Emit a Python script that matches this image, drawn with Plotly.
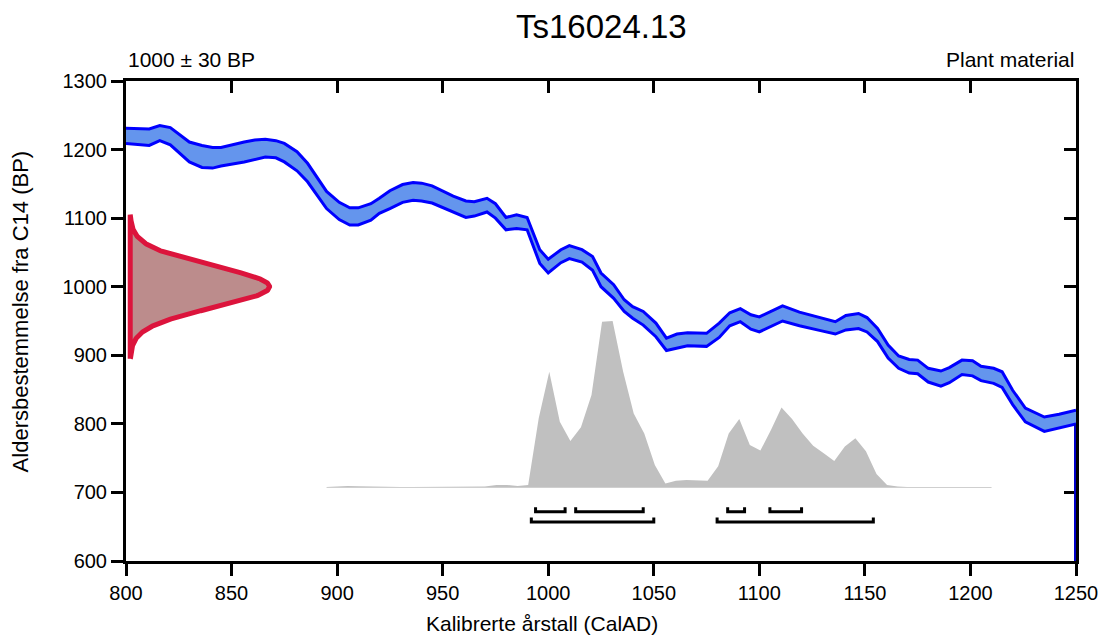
import numpy as np
import plotly.graph_objects as go

# ---------------- data ----------------
sample_name = "Ts16024.13"
c14_age = 1000
c14_sd = 30
material = "Plant material"

# calibration curve (IntCal-style band), upper and lower edges in BP
cal_year = [800, 811, 816, 821, 830, 836, 841, 845, 856, 861,
            866, 871, 875, 881, 886, 895, 901, 906, 910, 916,
            920, 925, 931, 936, 940, 945, 955, 961, 965, 971,
            975, 980, 985, 990, 996, 1000, 1006, 1010, 1016, 1021,
            1025, 1031, 1036, 1040, 1045, 1051, 1056, 1061, 1066, 1075,
            1081, 1086, 1091, 1096, 1100, 1111, 1119, 1129, 1136, 1141,
            1147, 1151, 1156, 1161, 1166, 1171, 1175, 1180, 1186, 1190,
            1196, 1201, 1205, 1211, 1215, 1220, 1226, 1235, 1242, 1250]
cal_upper = [1231, 1230, 1235, 1232, 1211, 1206, 1203, 1203, 1211, 1214,
             1215, 1213, 1209, 1197, 1180, 1139, 1123, 1115, 1115, 1121,
             1129, 1140, 1149, 1152, 1151, 1147, 1132, 1125, 1124, 1129,
             1121, 1101, 1105, 1101, 1054, 1040, 1054, 1060, 1054, 1044,
             1020, 1003, 981, 971, 964, 947, 925, 931, 933, 932,
             947, 962, 968, 959, 956, 972, 963, 955, 949, 958,
             961, 955, 939, 915, 899, 894, 893, 881, 877, 882,
             893, 892, 884, 881, 876, 849, 823, 810, 814, 820]
cal_lower = [1209, 1206, 1213, 1207, 1182, 1174, 1173, 1176, 1182, 1186,
             1189, 1188, 1182, 1169, 1153, 1114, 1098, 1090, 1090, 1097,
             1107, 1114, 1123, 1126, 1125, 1122, 1109, 1101, 1103, 1109,
             1100, 1083, 1085, 1083, 1034, 1020, 1035, 1041, 1036, 1024,
             1000, 983, 964, 954, 944, 927, 907, 911, 914, 913,
             926, 943, 949, 938, 934, 950, 943, 936, 931, 937,
             939, 934, 920, 896, 881, 874, 873, 861, 855, 860,
             872, 870, 863, 859, 853, 828, 803, 789, 794, 800]

# calibrated probability distribution (height above its baseline, in BP-axis units)
dist_year = [895, 900, 905, 910, 915, 920, 925, 930, 935, 940,
             945, 950, 955, 960, 965, 970, 975.5, 980.5, 985.5, 990.5,
             995.5, 1000.5, 1005.5, 1010.5, 1015.5, 1020.5, 1025.5, 1030.5, 1035.5, 1040.5,
             1045.5, 1050.5, 1055.5, 1060.5, 1065.5, 1070.5, 1075.5, 1080.5, 1085.5, 1090.5,
             1095.5, 1100.5, 1105.5, 1110.5, 1115.5, 1120.5, 1125.5, 1130.5, 1135.5, 1140.5,
             1145.5, 1150.5, 1155.5, 1160.5, 1165.5, 1170, 1175, 1180, 1185, 1190,
             1195, 1200, 1205, 1210]
dist_prob = [1, 2, 2.5, 2, 1.5, 1, 1, 1, 1, 1,
             1, 1, 1, 1, 1, 1.5, 4, 4, 2.5, 4,
             101, 169, 96, 68, 88, 135, 242, 243, 169, 108,
             79, 33, 6, 10, 11, 10, 10, 31, 79, 100,
             62, 54, 84, 117, 100, 79, 61, 50, 39, 60,
             72, 53, 20, 4, 1.5, 1, 1, 1, 1, 1,
             1, 1, 1, 1]

# calibrated ranges (cal AD)
range68_start = [994, 1013, 1085, 1105]
range68_end = [1008, 1045, 1093, 1120]
range95_start = [992, 1080]
range95_end = [1050, 1154]

x_ticks = [800, 850, 900, 950, 1000, 1050, 1100, 1150, 1200, 1250]
y_ticks = [600, 700, 800, 900, 1000, 1100, 1200, 1300]

# ---------------- styles / positions ----------------
FONT = "Liberation Sans, Arial, sans-serif"
dist_base = 707
row68_y, row95_y, tick_h = 672, 657, 6.5
gauss_base, gauss_amp = 802, 66

fig = go.Figure()

# probability distribution (grey)
fig.add_trace(go.Scatter(x=dist_year, y=[dist_base] * len(dist_year), mode="lines",
                         line=dict(width=0, color="#C0C0C0"), hoverinfo="skip", showlegend=False))
fig.add_trace(go.Scatter(x=dist_year, y=[dist_base + p for p in dist_prob], mode="lines",
                         fill="tonexty", fillcolor="#C0C0C0",
                         line=dict(width=0, color="#C0C0C0"), showlegend=False))

# calibration curve band
fig.add_trace(go.Scatter(x=cal_year, y=cal_upper, mode="lines",
                         line=dict(color="#0000FF", width=3), showlegend=False))
fig.add_trace(go.Scatter(x=cal_year, y=cal_lower, mode="lines", fill="tonexty",
                         fillcolor="#6495ED", line=dict(color="#0000FF", width=3), showlegend=False))
fig.add_trace(go.Scatter(x=[cal_year[-1], cal_year[-1]], y=[cal_lower[-1], y_ticks[0]], mode="lines",
                         line=dict(color="#0000C8", width=4), showlegend=False))

# measured radiocarbon age as normal distribution on the y-axis
gy = np.linspace(c14_age - 3.5 * c14_sd, c14_age + 3.5 * c14_sd, 301)
gx = gauss_base + gauss_amp * np.exp(-0.5 * ((gy - c14_age) / c14_sd) ** 2)
gx = np.concatenate([[gauss_base], gx, [gauss_base], [gauss_base]])
gy = np.concatenate([[gy[0]], gy, [gy[-1]], [gy[0]]])
fig.add_trace(go.Scatter(x=gx, y=gy, mode="lines", fill="toself", fillcolor="#BC8C8C",
                         line=dict(color="#DC143C", width=5), showlegend=False))

# range brackets
def brackets(starts, ends, y0):
    xs, ys = [], []
    for a, b in zip(starts, ends):
        xs += [a, a, b, b, None]
        ys += [y0 + tick_h, y0, y0, y0 + tick_h, None]
    return xs, ys

for st, en, yy in [(range68_start, range68_end, row68_y), (range95_start, range95_end, row95_y)]:
    bx, by = brackets(st, en, yy)
    fig.add_trace(go.Scatter(x=bx, y=by, mode="lines", line=dict(color="black", width=3),
                             showlegend=False))

# dummy trace for mirrored axes
fig.add_trace(go.Scatter(x=[None], y=[None], xaxis="x2", yaxis="y2", showlegend=False))

axis_common = dict(showgrid=False, zeroline=False, showline=True, linecolor="black",
                   linewidth=3, ticklen=12, tickwidth=3, tickcolor="black", automargin=False,
                   tickfont=dict(family=FONT, size=20, color="black"))

fig.update_layout(
    width=1101, height=636,
    margin=dict(l=126, r=25, t=81, b=75, autoexpand=False),
    paper_bgcolor="white", plot_bgcolor="white",
    showlegend=False,
    xaxis=dict(range=[800, 1250], tickvals=x_ticks, ticks="outside", **axis_common),
    yaxis=dict(range=[600, 1300], tickvals=y_ticks, ticks="outside", **axis_common),
    xaxis2=dict(range=[800, 1250], tickvals=x_ticks, ticks="inside", overlaying="x",
                side="top", showticklabels=False, **axis_common),
    yaxis2=dict(range=[600, 1300], tickvals=y_ticks, ticks="inside", overlaying="y",
                side="right", showticklabels=False, layer="below traces", **axis_common),
    annotations=[
        dict(text=sample_name, xref="paper", yref="paper", x=0.5, y=1.1125,
             xanchor="center", yanchor="middle", showarrow=False,
             font=dict(family=FONT, size=33, color="black")),
        dict(text=f"{c14_age} ± {c14_sd} BP", xref="paper", yref="paper", x=0, y=1.044,
             xanchor="left", yanchor="middle", showarrow=False,
             font=dict(family=FONT, size=21, color="black")),
        dict(text=material, xref="paper", yref="paper", x=1, y=1.044,
             xanchor="right", yanchor="middle", showarrow=False,
             font=dict(family=FONT, size=21, color="black")),
        dict(text="Kalibrerte årstall (CalAD)", xref="paper", yref="paper", x=0.438, y=-0.13,
             xanchor="center", yanchor="middle", showarrow=False,
             font=dict(family=FONT, size=21, color="black")),
        dict(text="Aldersbestemmelse fra C14 (BP)", xref="paper", yref="paper", x=-0.1116, y=0.52,
             xanchor="center", yanchor="middle", showarrow=False, textangle=-90,
             font=dict(family=FONT, size=22, color="black")),
    ],
)

fig.write_html("out.html")
